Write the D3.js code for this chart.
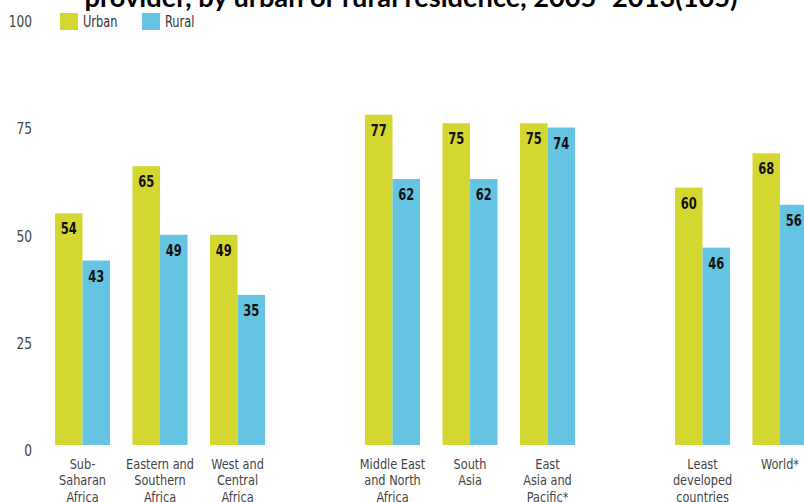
<!DOCTYPE html>
<html>
<head>
<meta charset="utf-8">
<script src="https://cdn.jsdelivr.net/npm/d3@7"></script>
<style>
  html, body { margin: 0; padding: 0; background: #fff; }
  svg { display: block; }
  .narrow { font-family: 'DejaVu Sans', sans-serif; font-stretch: condensed; }
</style>
</head>
<body>
<svg id="chart" width="804" height="502"></svg>
<script>
// Regions, with spacer slots between the three groups
const categories = [
  ["Sub-", "Saharan", "Africa"],
  ["Eastern and", "Southern", "Africa"],
  ["West and", "Central", "Africa"],
  ["Middle East", "and North", "Africa"],
  ["South", "Asia"],
  ["East", "Asia and", "Pacific*"],
  ["Least", "developed", "countries"],
  ["World*"]
];
const slotIndex = [0, 1, 2, 4, 5, 6, 8, 9];
const urban = [54, 65, 49, 77, 75, 75, 60, 68];
const rural = [43, 49, 35, 62, 62, 74, 46, 56];
const yTicks = [0, 25, 50, 75, 100];
const seriesNames = ["Urban", "Rural"];
const colors = { Urban: "#d5d731", Rural: "#65c4e1" };
const title = "provider, by urban or rural residence, 2005\u20132013(105)";

const svg = d3.select("#chart");

// Place a horizontally squeezed text at (px, py)
function squeeze(sel, px, py, sx) {
  sel.attr("x", 0).attr("y", 0)
    .attr("transform", function(d, i) {
      const X = typeof px === "function" ? px.call(this, d, i) : px;
      const Y = typeof py === "function" ? py.call(this, d, i) : py;
      return `translate(${X},${Y}) scale(${sx},1)`;
    });
  return sel;
}

const x = d3.scaleBand()
  .domain(d3.range(10))
  .range([43.75, 818.75])
  .paddingInner(0.29)
  .paddingOuter(0.145);

const xSub = d3.scaleBand()
  .domain(seriesNames)
  .range([0, x.bandwidth()]);

const y = d3.scaleLinear().domain([0, 100]).range([445, 16]);

// Title (top clipped by the page edge)
svg.append("text")
  .attr("x", 411)
  .attr("y", 7)
  .attr("text-anchor", "middle")
  .attr("font-family", "Lato, 'Open Sans', sans-serif")
  .attr("font-weight", "bold")
  .attr("font-size", 27.2)
  .attr("fill", "#000")
  .text(title);

// Y axis tick labels
const yAxis = d3.axisLeft(y).tickValues(yTicks).tickSize(0).tickPadding(0);
const gy = svg.append("g").call(yAxis);
gy.select(".domain").remove();
gy.selectAll(".tick").attr("transform", null);
squeeze(gy.selectAll(".tick text"), 32, d => y(d) + 11, 0.85)
  .attr("dy", null)
  .attr("class", "narrow")
  .attr("font-family", null)
  .attr("font-size", 16)
  .attr("text-anchor", "end")
  .attr("fill", "#444");

// Legend
const legend = svg.append("g").attr("transform", "translate(60,13)");
const li = legend.selectAll("g").data(seriesNames).join("g")
  .attr("transform", (d, i) => `translate(${i * 82},0)`);
li.append("rect").attr("width", 18).attr("height", 17).attr("fill", d => colors[d]);
squeeze(li.append("text"), 23, 13.5, 0.82)
  .attr("class", "narrow")
  .attr("font-size", 15.5)
  .attr("fill", "#333")
  .text(d => d);

// Bars
const rows = categories.map((c, i) => ({
  slot: slotIndex[i], label: c,
  values: [{ key: "Urban", v: urban[i] }, { key: "Rural", v: rural[i] }]
}));

const groups = svg.append("g").selectAll("g").data(rows).join("g")
  .attr("transform", d => `translate(${x(d.slot)},0)`);

groups.selectAll("rect").data(d => d.values).join("rect")
  .attr("x", d => xSub(d.key))
  .attr("y", d => y(d.v))
  .attr("width", xSub.bandwidth())
  .attr("height", d => y(0) - y(d.v))
  .attr("fill", d => colors[d.key]);

squeeze(groups.selectAll("text.val").data(d => d.values).join("text"),
        d => xSub(d.key) + xSub.bandwidth() / 2, d => y(d.v) + 21, 0.8)
  .attr("class", "val narrow")
  .attr("text-anchor", "middle")
  .attr("font-weight", "bold")
  .attr("font-size", 16)
  .attr("fill", "#111")
  .text(d => d.v);

// Category labels
groups.append("text")
  .attr("class", "narrow")
  .attr("text-anchor", "middle")
  .attr("font-size", 14)
  .attr("fill", "#444")
  .attr("transform", `translate(${x.bandwidth() / 2},0) scale(0.9,1)`)
  .each(function(d) {
    d3.select(this).selectAll("tspan").data(d.label).join("tspan")
      .attr("x", 0)
      .attr("y", (t, i) => 469 + i * 16.5)
      .text(t => t);
  });
</script>
</body>
</html>
